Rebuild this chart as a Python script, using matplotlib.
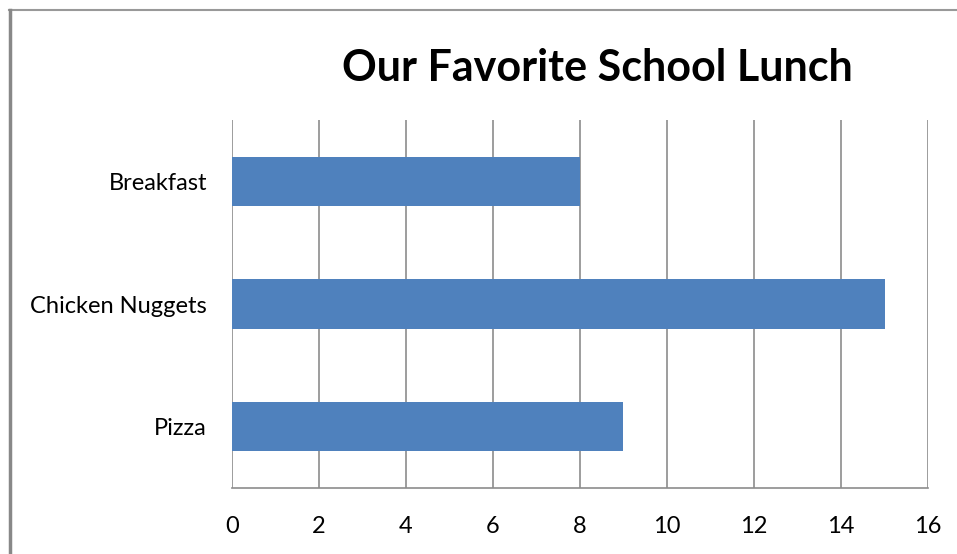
import matplotlib.pyplot as plt
from matplotlib.lines import Line2D

# lunch survey data (top to bottom in chart order: Pizza at bottom)
lunches = ["Pizza", "Chicken Nuggets", "Breakfast"]
votes = [9, 15, 8]
xticks = [0, 2, 4, 6, 8, 10, 12, 14, 16]

plt.rcParams["font.family"] = ["Lato", "DejaVu Sans"]

fig = plt.figure(figsize=(9.57, 5.54), dpi=100)
ax = fig.add_axes([0.2424, 0.1191, 0.7273, 0.6643])

ax.barh(lunches, votes, height=0.40, color="#4F81BD", zorder=3)

ax.set_xlim(0, 16)
ax.set_ylim(-0.5, 2.5)
ax.set_xticks(xticks)
ax.set_xticklabels([str(t) for t in xticks], fontsize=17)
ax.tick_params(axis="y", labelsize=17, length=0, pad=18)
ax.tick_params(axis="x", length=0, pad=20)
ax.grid(axis="x", color="#8c8c8c", linewidth=1.2, zorder=0)
for side in ["top", "right", "left"]:
    ax.spines[side].set_visible(False)
ax.spines["bottom"].set_color("#8c8c8c")
ax.spines["bottom"].set_linewidth(1.2)

fig.text(0.624, 0.877, "Our Favorite School Lunch", ha="center", va="center",
         fontsize=31, fontweight="bold")

# frame of the chart area, cut off at right and bottom
fig.add_artist(Line2D([9 / 957, 1.0], [1 - 10 / 554, 1 - 10 / 554],
                      transform=fig.transFigure, color="#999999", linewidth=1.5))
fig.add_artist(Line2D([10 / 957, 10 / 957], [0.0, 1 - 10 / 554],
                      transform=fig.transFigure, color="#888888", linewidth=2.5))

fig.savefig("out.png", dpi=100)
